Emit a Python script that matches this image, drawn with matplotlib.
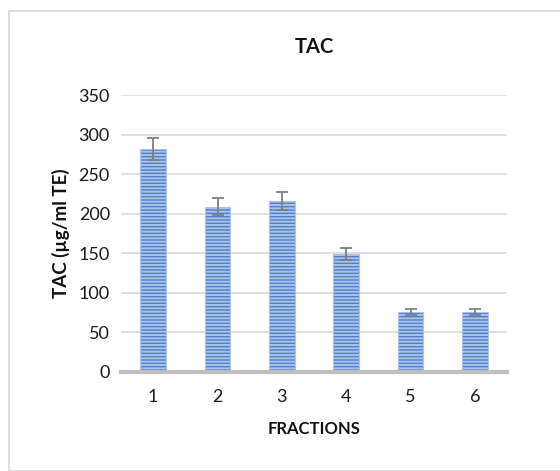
import matplotlib
matplotlib.use("Agg")
import matplotlib.pyplot as plt
from matplotlib.patches import Rectangle

fractions = ["1", "2", "3", "4", "5", "6"]
tac = [282, 209, 216, 149, 76, 76]
err = [14, 10.5, 11, 7.5, 4, 4]
yticks = [0, 50, 100, 150, 200, 250, 300, 350]

plt.rcParams['font.family'] = ['Lato', 'DejaVu Sans']
plt.rcParams['hatch.linewidth'] = 1.4

fig = plt.figure(figsize=(5.6, 4.71), dpi=100)
fig.patches.append(Rectangle((9/560, 0), 1.0, 1 - 11/471, transform=fig.transFigure,
                             fill=False, edgecolor='#d9d9d9', linewidth=1.2))
ax = fig.add_axes([121/560, 1 - 372/471, (507 - 121)/560, (372 - 95)/471])

x = list(range(1, len(fractions) + 1))
ax.bar(x, tac, width=0.4, color='#4f7fc4', edgecolor='#aac3ea', hatch='-----',
       linewidth=0.8, zorder=3)
ax.errorbar(x, tac, yerr=err, fmt='none', ecolor='#7f7f7f', elinewidth=1.3,
            capsize=4.5, capthick=1.3, zorder=4)

ax.set_xlim(0.5, len(fractions) + 0.5)
ax.set_ylim(0, 350)
ax.set_yticks(yticks)
ax.set_xticks(x)
ax.set_xticklabels(fractions)
ax.grid(axis='y', color='#d9d9d9', linewidth=1.2, zorder=0)
ax.set_axisbelow(True)
for s in ['top', 'right', 'left']:
    ax.spines[s].set_visible(False)
ax.spines['bottom'].set_color('#bfbfbf')
ax.spines['bottom'].set_linewidth(3)
ax.spines['bottom'].set_zorder(5)
ax.tick_params(axis='both', length=0, labelsize=13, colors='#1a1a1a', pad=8)
ax.tick_params(axis='x', pad=12)

ax.set_title('TAC', fontsize=14.5, fontweight='bold', pad=30, color='#111111')
ax.set_xlabel('FRACTIONS', fontsize=12, fontweight='bold', labelpad=12, color='#111111')
ax.set_ylabel('TAC (µg/ml TE)', fontsize=13.5, fontweight='bold', labelpad=6, color='#111111')

fig.savefig('out.png', dpi=100)
